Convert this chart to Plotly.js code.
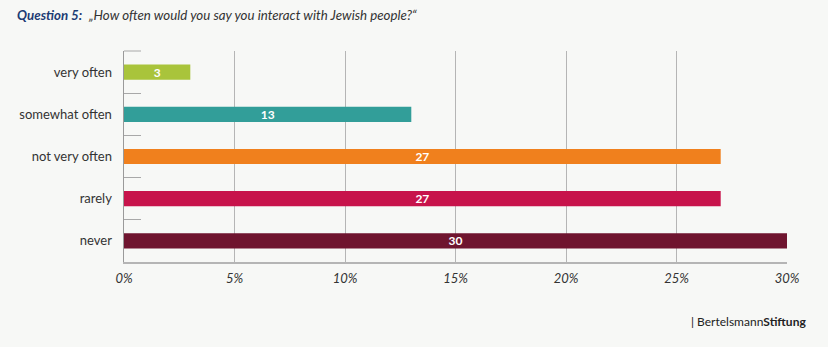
<!DOCTYPE html>
<html>
<head>
<meta charset="utf-8">
<script src="https://cdn.plot.ly/plotly-3.0.1.min.js"></script>
<style>
html,body{margin:0;padding:0;background:#f7f8f6;}
#chart{width:828px;height:347px;}
</style>
</head>
<body>
<div id="chart"></div>
<script>
const categories = ["very often", "somewhat often", "not very often", "rarely", "never"];
const values = [3, 13, 27, 27, 30];
const colors = ["#a9c43b", "#329e99", "#f0801d", "#c7134b", "#6f152f"];
const tickVals = [0, 5, 10, 15, 20, 25, 30];
const tickText = ["0%", "5%", "10%", "15%", "20%", "25%", "30%"];

const trace = {
  type: "bar",
  orientation: "h",
  y: categories,
  x: values,
  marker: {color: colors},
  width: 0.36,
  text: values.map(String),
  textposition: "inside",
  insidetextanchor: "middle",
  textangle: 0,
  textfont: {family: "Lato, sans-serif", size: 12, color: "#ffffff", weight: "bold"},
  hoverinfo: "none",
  cliponaxis: false
};

const layout = {
  width: 828, height: 347,
  paper_bgcolor: "#f7f8f6",
  plot_bgcolor: "#f7f8f6",
  margin: {l: 124, r: 41, t: 51, b: 85},
  showlegend: false,
  uniformtext: {mode: "show", minsize: 12},
  xaxis: {
    range: [0, 30],
    tickvals: tickVals,
    ticktext: tickText,
    showgrid: true,
    gridcolor: "#b5b5b5",
    gridwidth: 1,
    zeroline: false,
    showline: true,
    linecolor: "#b5b5b5",
    linewidth: 1.5,
    ticks: "",
    ticklabelstandoff: 4,
    tickfont: {family: "Lato, sans-serif", size: 13, color: "#333333", style: "italic"},
    fixedrange: true
  },
  yaxis: {
    type: "category",
    categoryorder: "array",
    categoryarray: categories,
    autorange: "reversed",
    showgrid: false,
    zeroline: false,
    showline: true,
    linecolor: "#9a9a9a",
    linewidth: 1.5,
    ticks: "inside",
    tickson: "boundaries",
    ticklen: 17,
    tickcolor: "#a8a8a8",
    tickwidth: 1,
    ticklabelstandoff: 8,
    tickfont: {family: "Lato, sans-serif", size: 13, color: "#333333"},
    fixedrange: true
  },
  shapes: [
    {type: "line", xref: "paper", yref: "paper", x0: 0, x1: 17/663, y0: 1, y1: 1,
     line: {color: "#a8a8a8", width: 1}}
  ],
  annotations: [
    {
      xref: "paper", yref: "paper", x: (15-124)/663, y: 1 + (51-15)/211,
      xanchor: "left", yanchor: "middle", showarrow: false,
      text: "<b><i><span style='color:#1d3c74'>Question 5:</span></i></b>  <i>„How often would you say you interact with Jewish people?“</i>",
      font: {family: "Lato, sans-serif", size: 13.3, color: "#333333"}
    },
    {
      xref: "paper", yref: "paper", x: (689-124)/663, y: -(321-262)/211,
      xanchor: "left", yanchor: "middle", showarrow: false,
      text: "<span style='color:#222'>|</span> Bertelsmann<b>Stiftung</b>",
      font: {family: "Lato, sans-serif", size: 12, color: "#222222"}
    }
  ]
};

Plotly.newPlot("chart", [trace], layout, {displayModeBar: false, staticPlot: true});
</script>
</body>
</html>
